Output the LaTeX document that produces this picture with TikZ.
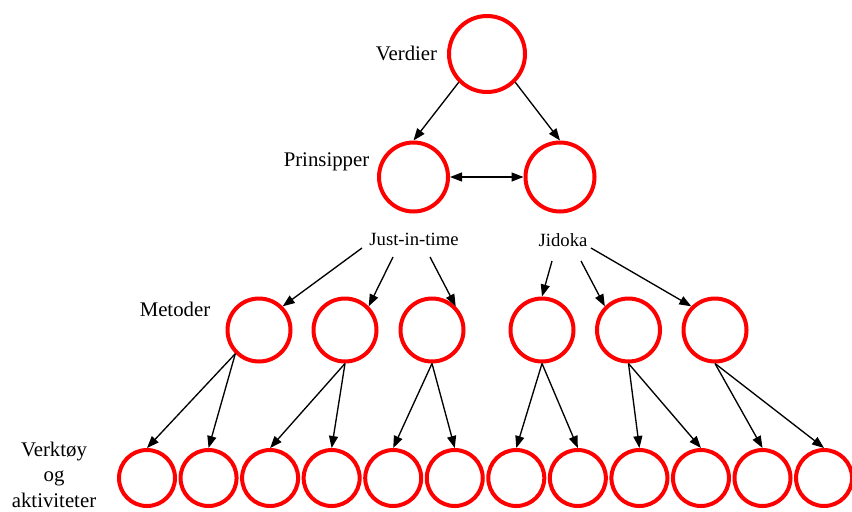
\documentclass[tikz,border=0pt]{standalone}
\usepackage{fontspec}
\setmainfont{Liberation Serif}
\usetikzlibrary{arrows.meta,calc}
\begin{document}
\begin{tikzpicture}[x=0.75pt,y=-0.75pt,
  ring/.style={circle,draw=red,line width=3pt,inner sep=0pt,fill=none},
  topring/.style={ring,minimum size=57pt},
  pring/.style={ring,minimum size=51.75pt},
  mring/.style={ring,minimum size=47.25pt},
  bring/.style={ring,minimum size=42pt},
  biglabel/.style={font=\fontsize{15.6}{19.1}\selectfont,inner sep=0pt},
  smalllabel/.style={font=\fontsize{14}{17}\selectfont,inner sep=0pt},
  arr/.style={draw=black,line width=1pt,-{Triangle[length=9pt,width=6.75pt]}},
  darr/.style={draw=black,line width=1pt,{Triangle[length=9pt,width=6.75pt]}-{Triangle[length=9pt,width=6.75pt]}}
]
\useasboundingbox (0,0) rectangle (852,511);
\clip (0,0) rectangle (852,511);
\fill[white] (0,0) rectangle (852,511);

% circles
\node[topring] (top) at (487,54) {};
\node[pring] (pL) at (413.5,177) {};
\node[pring] (pR) at (560,177) {};

\node[mring] (m1) at (259,330) {};
\node[mring] (m2) at (345,330) {};
\node[mring] (m3) at (432,330) {};
\node[mring] (m4) at (542,330) {};
\node[mring] (m5) at (628.5,330) {};
\node[mring] (m6) at (715,330) {};

\foreach \i in {1,...,12} {
  \node[bring] (b\i) at ({147+61.55*(\i-1)},478) {};
}

% labels
\node[biglabel,anchor=base] (verdier) at (406.5,60) {Verdier};
\node[biglabel,anchor=base] (prinsipper) at (326.5,166) {Prinsipper};
\node[smalllabel,anchor=base] (jit) at (414,245) {Just-in-time};
\node[smalllabel,anchor=base] (jidoka) at (563,246.5) {Jidoka};
\node[biglabel,anchor=base] (metoder) at (175,316.5) {Metoder};
\node[biglabel,align=center] (verktoy) at (54,474.5) {Verktøy\\og\\aktiviteter};

% connectors
\draw[arr] (top.south west) -- (pL.north);
\draw[arr] (top.south east) -- (pR.north);
\draw[darr] (pL.east) -- (pR.west);

\draw[arr] ($(jit.base)+(-52,3)$) -- (m1.north east);
\draw[arr] ($(jit.base)+(-21,12)$) -- (m2.north east);
\draw[arr] ($(jit.base)+(16,12)$) -- (m3.north east);

\draw[arr] ($(jidoka.base)+(-11,14.5)$) -- (m4.north);
\draw[arr] ($(jidoka.base)+(18,14.5)$) -- (m5.north west);
\draw[arr] ($(jidoka.base)+(28,1.5)$) -- (m6.north west);

\draw[arr] (m1.south west) -- (b1.north);
\draw[arr] (m1.south west) -- (b2.north);
\draw[arr] (m2.south) -- (b3.north);
\draw[arr] (m2.south) -- (b4.north);
\draw[arr] (m3.south) -- (b5.north);
\draw[arr] (m3.south) -- (b6.north);
\draw[arr] (m4.south) -- (b7.north);
\draw[arr] (m4.south) -- (b8.north);
\draw[arr] (m5.south) -- (b9.north);
\draw[arr] (m5.south) -- (b10.north);
\draw[arr] (m6.south) -- (b11.north);
\draw[arr] (m6.south) -- (b12.north);
\end{tikzpicture}
\end{document}
